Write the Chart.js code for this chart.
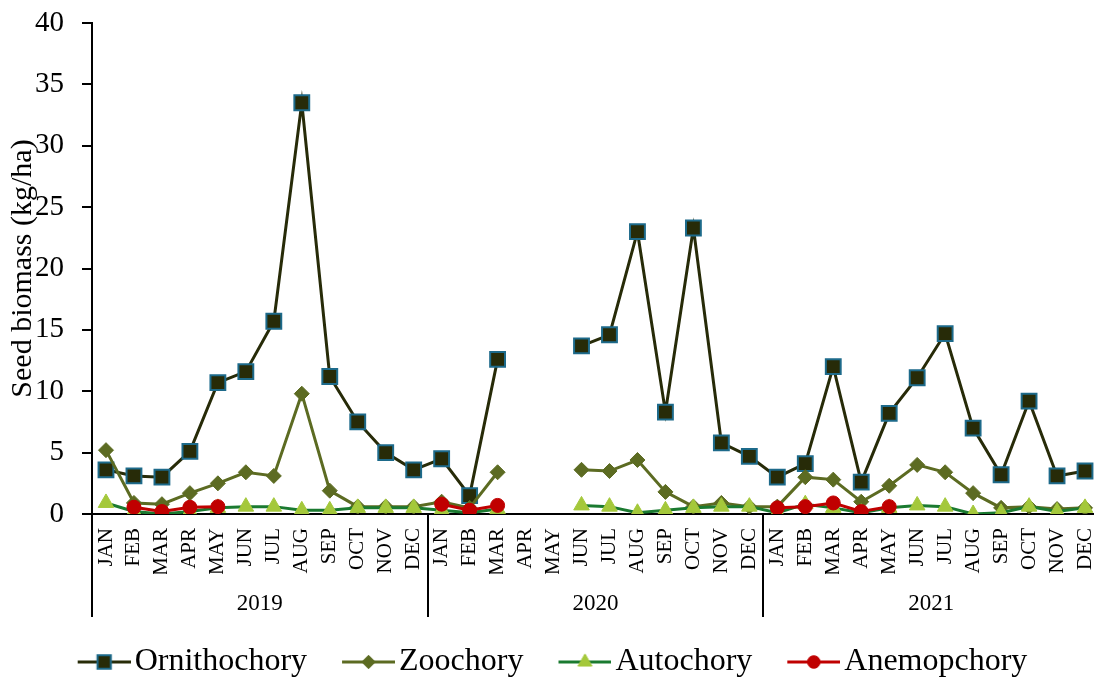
<!DOCTYPE html>
<html>
<head>
<meta charset="utf-8">
<script src="https://cdn.jsdelivr.net/npm/chart.js@4/dist/chart.umd.min.js"></script>
<style>
  html, body { margin: 0; padding: 0; background: #fff; overflow: hidden; }
  /* plot runs a few px past the right edge of the window, like the original */
  #wrap { width: 1099px; height: 681px; }
</style>
</head>
<body>
<div id="wrap"><canvas id="chart"></canvas></div>
<script>
const months = ['JAN', 'FEB', 'MAR', 'APR', 'MAY', 'JUN', 'JUL', 'AUG', 'SEP', 'OCT', 'NOV', 'DEC'];
const years = ['2019', '2020', '2021'];
const yTicks = [0, 5, 10, 15, 20, 25, 30, 35, 40];

// 2019 | 2020 | 2021, one value per month (null = no data)
const ornithochory = [
  3.6, 3.1, 3.0, 5.1, 10.7, 11.6, 15.7, 33.5, 11.2, 7.5, 5.0, 3.6,
  4.5, 1.5, 12.6, null, null, 13.7, 14.6, 23.0, 8.3, 23.3, 5.8, 4.7,
  3.0, 4.1, 12.0, 2.6, 8.2, 11.1, 14.7, 7.0, 3.2, 9.2, 3.1, 3.5
];
const zoochory = [
  5.2, 0.9, 0.8, 1.7, 2.5, 3.4, 3.1, 9.8, 1.9, 0.6, 0.6, 0.6,
  1.0, 0.5, 3.4, null, null, 3.6, 3.5, 4.4, 1.8, 0.6, 0.9, 0.6,
  0.6, 3.0, 2.8, 1.0, 2.3, 4.0, 3.4, 1.7, 0.5, 0.6, 0.4, 0.5
];
const autochory = [
  0.9, 0.2, 0.0, 0.2, 0.5, 0.6, 0.6, 0.3, 0.3, 0.5, 0.5, 0.5,
  0.3, 0.1, 0.4, null, null, 0.7, 0.6, 0.1, 0.3, 0.5, 0.6, 0.6,
  0.1, 0.8, 0.5, 0.1, 0.5, 0.7, 0.6, 0.0, 0.1, 0.6, 0.2, 0.5
];
const anemopchory = [
  null, 0.55, 0.2, 0.55, 0.6, null, null, null, null, null, null, null,
  0.8, 0.3, 0.7, null, null, null, null, null, null, null, null, null,
  0.5, 0.6, 0.9, 0.2, 0.6, null, null, null, null, null, null, null
];

const labels = years.flatMap(() => months);
const serif = "'Liberation Serif', 'Times New Roman', serif";

const series = [
  { label: 'Ornithochory', data: ornithochory, line: '#272b08', fill: '#272b08', edge: '#1d6a8a', style: 'rect', radius: 10.5, edgeWidth: 2, order: 3 },
  { label: 'Zoochory', data: zoochory, line: '#5c6b22', fill: '#5c6b22', edge: '#5c6b22', style: 'rectRot', radius: 7.5, edgeWidth: 1, order: 2 },
  { label: 'Autochory', data: autochory, line: '#1a7a30', fill: '#a4c83b', edge: '#a4c83b', style: 'triangle', radius: 9, edgeWidth: 1, order: 1 },
  { label: 'Anemopchory', data: anemopchory, line: '#c00000', fill: '#c00000', edge: '#c00000', style: 'circle', radius: 7, edgeWidth: 1, order: 0 }
];

// legend symbol: short line with the marker in the middle, sitting in the right part of the image
function legendSymbol(s) {
  const c = document.createElement('canvas');
  c.width = 71; c.height = 24;
  const ctx = c.getContext('2d');
  ctx.strokeStyle = s.line;
  ctx.lineWidth = 3;
  ctx.beginPath(); ctx.moveTo(18, 12); ctx.lineTo(71, 12); ctx.stroke();
  ctx.fillStyle = s.fill;
  ctx.strokeStyle = s.edge;
  ctx.lineWidth = s.edgeWidth;
  Chart.helpers.drawPoint(ctx, { pointStyle: s.style, radius: s.radius * 0.9, rotation: 0, borderWidth: s.edgeWidth }, 44.5, 12);
  return c;
}

const yearDividers = {
  id: 'yearDividers',
  afterDraw(chart) {
    const x = chart.scales.x, x2 = chart.scales.x2, ctx = chart.ctx;
    ctx.save();
    ctx.strokeStyle = '#000';
    ctx.lineWidth = 2;
    for (let i = 0; i <= years.length; i++) {
      const px = Math.round(x.getPixelForValue(i * months.length - 0.5));
      ctx.beginPath();
      ctx.moveTo(px, chart.chartArea.bottom);
      ctx.lineTo(px, x2.bottom);
      ctx.stroke();
    }
    ctx.restore();
  }
};

Chart.defaults.font.family = serif;
Chart.defaults.color = '#000';

new Chart(document.getElementById('chart'), {
  type: 'line',
  data: {
    labels: labels,
    datasets: series.map(s => ({
      label: s.label,
      data: s.data,
      borderColor: s.line,
      borderWidth: 3,
      backgroundColor: s.fill,
      pointBackgroundColor: s.fill,
      pointBorderColor: s.edge,
      pointBorderWidth: s.edgeWidth,
      pointStyle: s.style,
      pointRadius: s.radius,
      tension: 0,
      spanGaps: false,
      order: s.order
    }))
  },
  options: {
    responsive: true,
    maintainAspectRatio: false,
    animation: false,
    layout: { autoPadding: false, padding: { top: 23, right: 0, bottom: -7, left: 0 } },
    plugins: {
      tooltip: { enabled: false },
      legend: {
        position: 'bottom',
        labels: {
          usePointStyle: true,
          pointStyleWidth: 47,
          padding: 29,
          font: { size: 32, family: serif },
          color: '#000',
          generateLabels: () => series.map((s, i) => ({
            text: s.label,
            pointStyle: legendSymbol(s),
            datasetIndex: i,
            fillStyle: s.fill,
            strokeStyle: s.line,
            lineWidth: 0,
            hidden: false
          }))
        }
      }
    },
    scales: {
      x: {
        type: 'category',
        offset: true,
        grid: { display: false },
        border: { color: '#000', width: 2 },
        ticks: { autoSkip: false, maxRotation: 90, minRotation: 90, padding: 6, font: { size: 21 } },
        afterFit: s => { s.height = 60; s.paddingLeft = 0; s.paddingRight = 0; }
      },
      x2: {
        type: 'category',
        labels: years,
        position: 'bottom',
        offset: true,
        grid: { display: false },
        border: { display: false },
        ticks: { padding: 8, font: { size: 23 } },
        afterFit: s => { s.height = 43; s.paddingLeft = 0; s.paddingRight = 0; }
      },
      y: {
        min: 0,
        max: 40,
        afterBuildTicks: s => { s.ticks = yTicks.map(v => ({ value: v })); },
        grid: { drawOnChartArea: false, drawTicks: true, tickLength: 10, color: '#000', lineWidth: 2 },
        border: { color: '#000', width: 2 },
        ticks: { padding: 18, font: { size: 29 } },
        title: { display: true, text: 'Seed biomass (kg/ha)', font: { size: 30 }, padding: { top: 5, bottom: 0 } },
        afterFit: s => { s.width = 92; s.paddingTop = 0; s.paddingBottom = 0; }
      }
    }
  },
  plugins: [yearDividers]
});
</script>
</body>
</html>
